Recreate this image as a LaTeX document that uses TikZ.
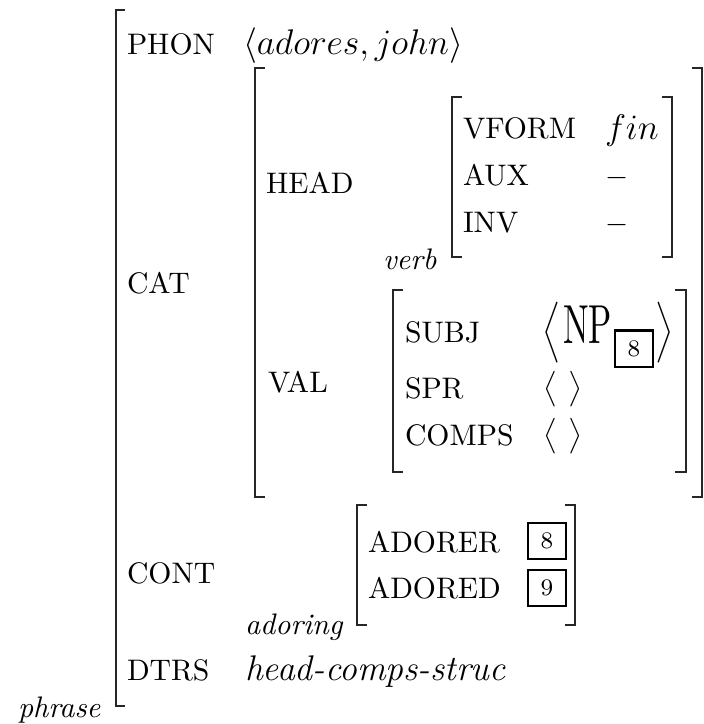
\documentclass[tikz,border=0pt]{standalone}
\usepackage{graphicx}
\begin{document}
\begin{tikzpicture}[x=0.3367pt,y=-0.3367pt,
  lbl/.style={anchor=base west,inner sep=0pt,outer sep=0pt},
  brk/.style={line width=0.7pt,draw=black!85},
  tagbox/.style={draw,line width=0.75pt,minimum width=12.8pt,minimum height=12.2pt,inner sep=0pt,font=\footnotesize},
  delim/.style={inner sep=0pt,outer sep=0pt,anchor=center}]
\useasboundingbox (0,0) rectangle (704,724);
% outer matrix (phrase)
\draw[brk] (125,10) -- (116,10) -- (116,706) -- (125,706);
% CAT matrix
\draw[brk] (265,68) -- (255,68) -- (255,497) -- (265,497);
\draw[brk] (692,68) -- (702,68) -- (702,497) -- (692,497);
% HEAD matrix
\draw[brk] (462,97) -- (452,97) -- (452,257) -- (462,257);
\draw[brk] (662,97) -- (672,97) -- (672,257) -- (662,257);
% VAL matrix
\draw[brk] (403,290) -- (393,290) -- (393,472) -- (403,472);
\draw[brk] (675,290) -- (686,290) -- (686,472) -- (675,472);
% CONT matrix
\draw[brk] (367,505) -- (357,505) -- (357,625) -- (367,625);
\draw[brk] (565,505) -- (575,505) -- (575,625) -- (565,625);

\node[lbl] (phon) at (127,54) {PHON};
\node[lbl] (phonv) at (243,54) {\fontsize{11.5}{14}\selectfont $\langle adores, john\rangle$};
\node[lbl] (cat) at (127,293) {CAT};
\node[lbl] (head) at (266,193) {HEAD};
\node[lbl] (val) at (268,392) {VAL};
\node[lbl] (vform) at (463,138) {VFORM};
\node[lbl] (fin) at (605,139) {\fontsize{13}{15}\selectfont $fin$};
\node[lbl] (aux) at (463,185) {AUX};
\node[lbl] (auxv) at (605,185) {$-$};
\node[lbl] (inv) at (463,232) {INV};
\node[lbl] (invv) at (605,232) {$-$};
\node[lbl] (verb) at (383,269) {\textit{verb}};
\node[lbl] (subj) at (405,342) {SUBJ};
\node[delim] (subjl) at (552,332.5) {\scalebox{1}[1.14]{$\Big\langle$}};
\node[lbl] (np) at (563,343) {\scalebox{1.15}[1.85]{NP}};
\node[tagbox] (tnp) at (634,348.5) {8};
\node[delim] (subjr) at (664.5,332.5) {\scalebox{1}[1.14]{$\Big\rangle$}};
\node[lbl] (spr) at (405,398) {SPR};
\node[delim] (sprl) at (551,389.5) {$\big\langle$};
\node[delim] (sprr) at (575.5,389.5) {$\big\rangle$};
\node[lbl] (comps) at (405,445) {COMPS};
\node[delim] (compsl) at (551,436.5) {$\big\langle$};
\node[delim] (compsr) at (575.5,436.5) {$\big\rangle$};
\node[lbl] (cont) at (127,583) {CONT};
\node[lbl] (adorer) at (368,552) {ADORER};
\node[tagbox] (tadorer) at (547,541) {8};
\node[lbl] (adored) at (368,598) {ADORED};
\node[tagbox] (tadored) at (547,588) {9};
\node[lbl] (adoring) at (245,634) {\textit{adoring}};
\node[lbl] (dtrs) at (127,680) {DTRS};
\node[lbl] (hcs) at (245,680) {\large\textit{head-comps-struc}};
\node[lbl] (phrase) at (18,717) {\textit{phrase}};
\end{tikzpicture}
\end{document}
